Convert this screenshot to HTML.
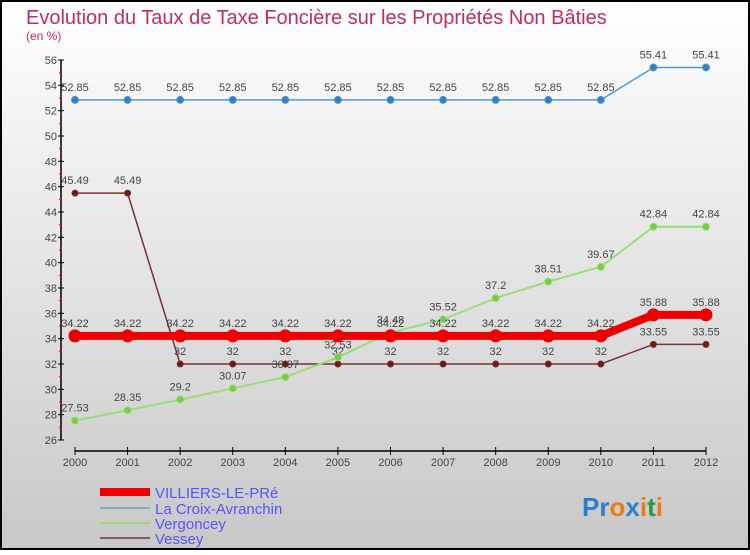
<!DOCTYPE html>
<html><head><meta charset="utf-8"><style>
body{margin:0;}
#c{width:750px;height:550px;position:relative;font-family:"Liberation Sans",sans-serif;}
</style></head><body>
<div id="c">
<svg id="s" width="750" height="550" xmlns="http://www.w3.org/2000/svg">
<defs><linearGradient id="bg" x1="0" y1="0" x2="0" y2="1"><stop offset="0" stop-color="#ffffff"/><stop offset="1" stop-color="#c8c8c8"/></linearGradient></defs>
<rect x="1" y="1" width="748" height="548" fill="url(#bg)" stroke="#000" stroke-width="2"/>
<text x="26" y="24" font-size="20" fill="#c0305a">Evolution du Taux de Taxe Foncière sur les Propriétés Non Bâties</text>
<text x="26" y="40" font-size="12" fill="#c0305a">(en %)</text>
<g id="axes"></g><g id="series"></g>
<g>
<rect x="100" y="488" width="50" height="8" fill="#e00"/>
<text x="155" y="498" font-size="15" fill="#5555ff">VILLIERS-LE-PRé</text>
<line x1="100" y1="508" x2="150" y2="508" stroke="#7aa8d0" stroke-width="2"/>
<text x="155" y="514" font-size="15" fill="#5555ff">La Croix-Avranchin</text>
<line x1="100" y1="523" x2="150" y2="523" stroke="#99dd77" stroke-width="2"/>
<text x="155" y="529" font-size="15" fill="#5555ff">Vergoncey</text>
<line x1="100" y1="538" x2="150" y2="538" stroke="#8a5a5a" stroke-width="2"/>
<text x="155" y="544" font-size="15" fill="#5555ff">Vessey</text>
</g>
<text x="582" y="516" font-size="26" font-weight="bold"><tspan fill="#2a7fd0">Pr</tspan><tspan fill="#ee7a10">o</tspan><tspan fill="#2a7fd0">x</tspan><tspan fill="#ee7a10">i</tspan><tspan fill="#2a9a40">t</tspan><tspan fill="#ee7a10">i</tspan></text>
</svg>
</div>
<script>
const years=["2000","2001","2002","2003","2004","2005","2006","2007","2008","2009","2010","2011","2012"];
const yTicks=[26,28,30,32,34,36,38,40,42,44,46,48,50,52,54,56];
const villiers=[34.22,34.22,34.22,34.22,34.22,34.22,34.22,34.22,34.22,34.22,34.22,35.88,35.88];
const croix=[52.85,52.85,52.85,52.85,52.85,52.85,52.85,52.85,52.85,52.85,52.85,55.41,55.41];
const vergoncey=[27.53,28.35,29.2,30.07,30.97,32.53,34.48,35.52,37.2,38.51,39.67,42.84,42.84];
const vessey=[45.49,45.49,32,32,32,32,32,32,32,32,32,33.55,33.55];
const NS="http://www.w3.org/2000/svg";
const xS=i=>75+i*(706-75)/12;
const yS=v=>440-(v-26)*380/30;
function mk(p,t,a){const e=document.createElementNS(NS,t);for(const k in a)e.setAttribute(k,a[k]);p.appendChild(e);return e;}
const ax=document.getElementById('axes');
let e=mk(ax,'line',{x1:61,y1:60,x2:61,y2:440,stroke:'#000','stroke-width':1.5});


e=mk(ax,'line',{x1:75,y1:451,x2:706,y2:451,stroke:'#000','stroke-width':1.5});


yTicks.forEach(v=>{const y=yS(v);
mk(ax,'line',{x1:58,y1:y,x2:64,y2:y,stroke:'#000'});
if(v<56)mk(ax,'line',{x1:59,y1:yS(v+1),x2:62,y2:yS(v+1),stroke:'#e00'});
const t=mk(ax,'text',{x:57,y:y+4,'font-size':11,'text-anchor':'end',fill:'#444'});t.textContent=v;

});
years.forEach((yr,i)=>{const x=xS(i);
mk(ax,'line',{x1:x,y1:447,x2:x,y2:455,stroke:'#000'});
const t=mk(ax,'text',{x:x,y:466,'font-size':11,'text-anchor':'middle',fill:'#444'});t.textContent=yr;

});
const sg=document.getElementById('series');
function draw(name,vals,color,w,r,dot){
const g=mk(sg,'g',{});


const pl=mk(g,'polyline',{points:vals.map((v,i)=>xS(i)+','+yS(v)).join(' '),fill:'none',stroke:color,'stroke-width':w});


vals.forEach((v,i)=>{const c=mk(g,'circle',{cx:xS(i),cy:yS(v),r:r,fill:dot,stroke:color,'stroke-width':1});


const t=mk(g,'text',{x:xS(i),y:yS(v)-9,'font-size':11,'text-anchor':'middle',fill:'#444'});t.textContent=v;

});}
draw('vessey',vessey,'#7a3030',1.5,3,'#6a1a1a');
draw('vergoncey',vergoncey,'#99dd77',2,3.5,'#77cc44');
draw('villiers',villiers,'#ee0000',8,6,'#ee0000');
draw('croix',croix,'#5599cc',1.5,3.5,'#3380c0');
</script>
</body></html>
